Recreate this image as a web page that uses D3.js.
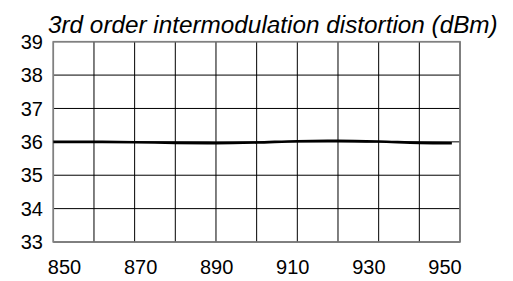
<!DOCTYPE html>
<html>
<head>
<meta charset="utf-8">
<script src="https://cdn.jsdelivr.net/npm/d3@7"></script>
<style>
  html, body { margin: 0; padding: 0; background: #fff; }
  svg { display: block; }
  text { font-family: "Liberation Sans", Arial, sans-serif; fill: #000; }
</style>
</head>
<body>
<svg id="chart" width="513" height="281"></svg>
<script>
// ---- data ----
const title = "3rd order intermodulation distortion (dBm)";
const freq = [850, 860, 870, 880, 890, 900, 910, 920, 930, 940, 948];
const imd3 = [36.0, 36.0, 35.99, 35.97, 35.96, 35.98, 36.02, 36.03, 36.01, 35.97, 35.96];
const xTickLabels = [850, 870, 890, 910, 930, 950];
const yTickLabels = [33, 34, 35, 36, 37, 38, 39];
const xGridValues = [850, 860, 870, 880, 890, 900, 910, 920, 930, 940, 950];

// ---- layout ----
const svg = d3.select("#chart");
const mLeft = 53.3, mRight = 460, mTop = 41.7, mBottom = 242;

const x = d3.scaleLinear().domain([850, 950]).range([mLeft, mRight]);
const y = d3.scaleLinear().domain([33, 39]).range([mBottom, mTop]);
// label placement in the original is inset from the plot edges
const xLabel = d3.scaleLinear().domain([850, 950]).range([64.5, 445]);

// title: fit to the span it covers in the original (x 48 .. 498)
const t = svg.append("text")
  .attr("x", 48).attr("y", 33)
  .attr("text-anchor", "start")
  .style("font-size", "22px")
  .style("font-style", "italic")
  .text(title);
const bb = t.node().getBBox();
if (bb.width > 0) {
  const fs = 22 * 450 / bb.width;
  t.style("font-size", fs.toFixed(2) + "px");
  const bb2 = t.node().getBBox();
  t.attr("x", 48 - (bb2.x - 48));
}

// vertical grid
svg.append("g").selectAll("line").data(xGridValues).join("line")
  .attr("x1", d => x(d)).attr("x2", d => x(d))
  .attr("y1", mTop).attr("y2", mBottom)
  .attr("stroke", "#000").attr("stroke-width", 1);

// horizontal grid
svg.append("g").selectAll("line").data(yTickLabels).join("line")
  .attr("x1", mLeft).attr("x2", mRight)
  .attr("y1", d => y(d)).attr("y2", d => y(d))
  .attr("stroke", "#000").attr("stroke-width", 1);

// frame
svg.append("rect")
  .attr("x", mLeft).attr("y", mTop)
  .attr("width", mRight - mLeft).attr("height", mBottom - mTop)
  .attr("fill", "none").attr("stroke", "#808080").attr("stroke-width", 1.6);

// y labels
svg.append("g").selectAll("text").data(yTickLabels).join("text")
  .attr("x", 43).attr("y", d => y(d))
  .attr("dy", "0.36em")
  .attr("text-anchor", "end")
  .style("font-size", "20px")
  .text(d => d);

// x labels
svg.append("g").selectAll("text").data(xTickLabels).join("text")
  .attr("x", d => xLabel(d)).attr("y", 274)
  .attr("text-anchor", "middle")
  .style("font-size", "20px")
  .text(d => d);

// data line
const line = d3.line()
  .x((d, i) => x(freq[i]))
  .y(d => y(d))
  .curve(d3.curveMonotoneX);
svg.append("path")
  .datum(imd3)
  .attr("d", line)
  .attr("fill", "none")
  .attr("stroke", "#000")
  .attr("stroke-width", 2.6);
</script>
</body>
</html>
